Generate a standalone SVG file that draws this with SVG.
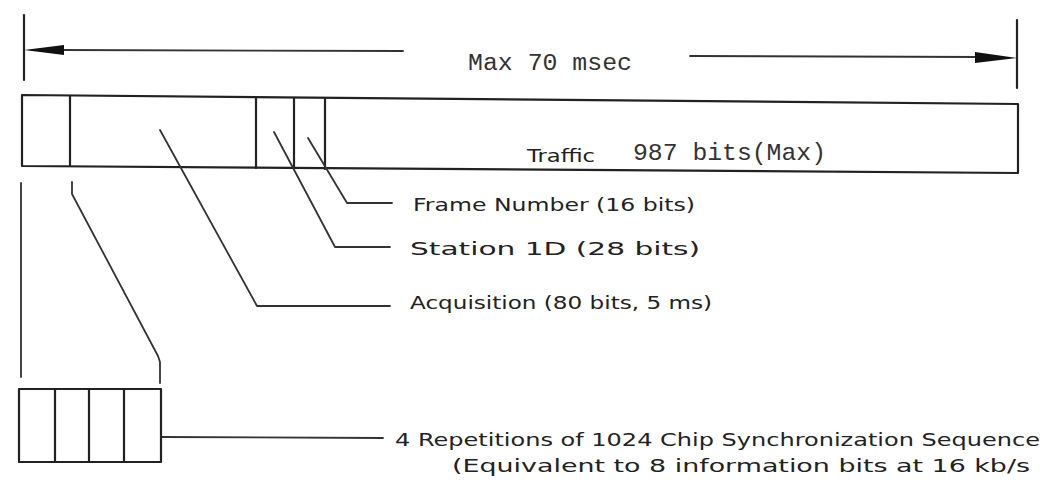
<svg xmlns="http://www.w3.org/2000/svg" width="1057" height="483" viewBox="0 0 1057 483">
<style>
.ln{fill:none;stroke:#222;stroke-width:2.2;stroke-linecap:round;stroke-linejoin:round}
.th{fill:none;stroke:#333;stroke-width:1.8;stroke-linecap:round;stroke-linejoin:round}
.lbl{font-family:"DejaVu Sans","Liberation Sans",sans-serif;font-size:17.5px;fill:#222}
.mono{font-family:"Liberation Mono","DejaVu Sans Mono",monospace;fill:#333}
.ah{fill:#111}
</style>
<rect width="1057" height="483" fill="#fff"/>
<g id="dimension">
<line class="ln" x1="24" y1="15" x2="24" y2="80"/>
<line class="ln" x1="1017" y1="20" x2="1017" y2="88"/>
<line class="th" x1="60" y1="50" x2="403" y2="51"/>
<line class="th" x1="690" y1="56" x2="978" y2="57"/>
<polygon class="ah" points="24,50 64,45 64,55"/>
<polygon class="ah" points="1017,58 975,52 975,63"/>
<text class="mono" x="468" y="70" font-size="23" textLength="164" lengthAdjust="spacingAndGlyphs">Max 70 msec</text>
</g>
<g id="frame">
<polygon class="ln" points="22,95 1018,104 1018,173 22,166"/>
<line class="ln" x1="70" y1="96" x2="70" y2="166"/>
<line class="ln" x1="256" y1="98" x2="256" y2="168"/>
<line class="ln" x1="294" y1="98" x2="294" y2="168"/>
<line class="ln" x1="325" y1="99" x2="325" y2="169"/>
<text class="lbl" x="527" y="162" font-size="16" textLength="68" lengthAdjust="spacingAndGlyphs">Traffic</text>
<text class="mono" x="633" y="160" font-size="24" textLength="193" lengthAdjust="spacingAndGlyphs">987 bits(Max)</text>
</g>
<g id="connectors">
<polyline class="th" points="160,130 257,306 390,306"/>
<polyline class="th" points="274,132 335,247 390,247"/>
<polyline class="th" points="308,138 347,203 392,203"/>
<line class="th" x1="21" y1="183" x2="21" y2="377"/>
<polyline class="th" points="72,182 72,194 158,356 160,362 160,383"/>
<line class="th" x1="162" y1="437" x2="383" y2="438"/>
</g>
<g id="label-frame-number">
<text class="lbl" x="413" y="211" textLength="282" lengthAdjust="spacingAndGlyphs">Frame Number (16 bits)</text>
</g>
<g id="label-station-id">
<text class="lbl" x="410" y="255" textLength="290" lengthAdjust="spacingAndGlyphs">Station 1D (28 bits)</text>
</g>
<g id="label-acquisition">
<text class="lbl" x="410" y="309" textLength="302" lengthAdjust="spacingAndGlyphs">Acquisition (80 bits, 5 ms)</text>
</g>
<g id="sync-box">
<rect class="ln" x="19" y="389" width="142" height="73"/>
<line class="ln" x1="55" y1="389" x2="55" y2="462"/>
<line class="ln" x1="89" y1="389" x2="89" y2="462"/>
<line class="ln" x1="124" y1="389" x2="124" y2="462"/>
</g>
<g id="label-sync">
<text class="lbl" x="395" y="446" textLength="645" lengthAdjust="spacingAndGlyphs">4 Repetitions of 1024 Chip Synchronization Sequence</text>
<text class="lbl" x="452" y="472" textLength="578" lengthAdjust="spacingAndGlyphs">(Equivalent to 8 information bits at 16 kb/s</text>
</g>
</svg>
